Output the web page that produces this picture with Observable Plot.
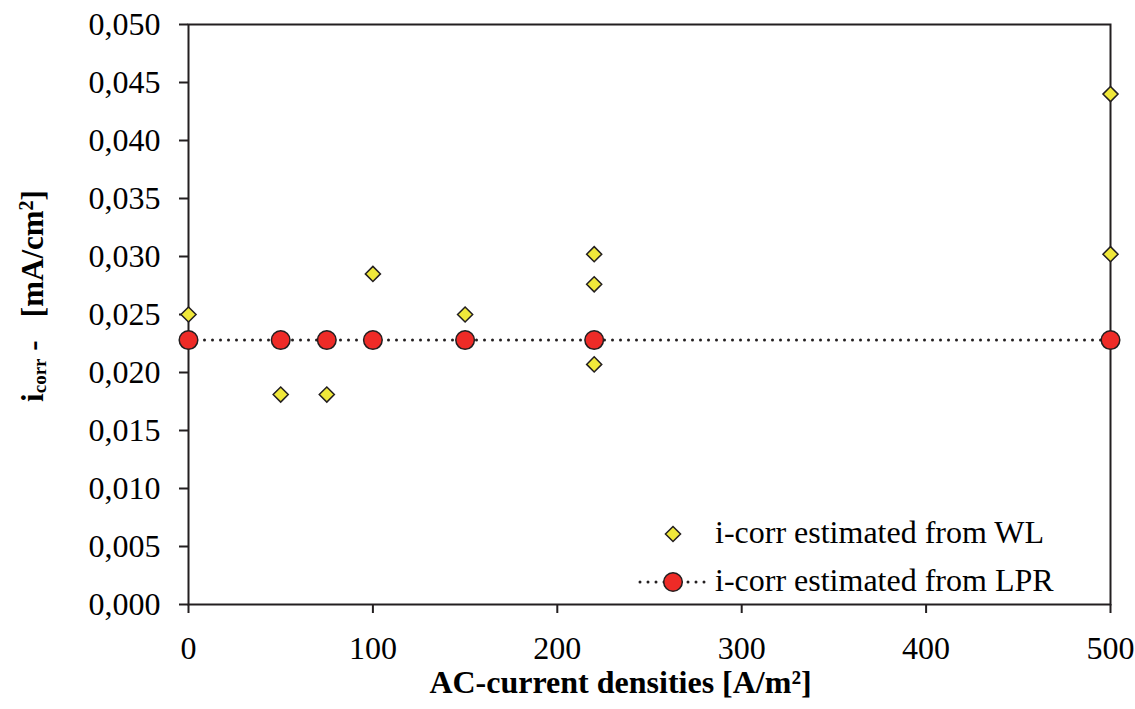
<!DOCTYPE html>
<html><head><meta charset="utf-8">
<script src="https://cdn.jsdelivr.net/npm/d3@7"></script>
<script src="https://cdn.jsdelivr.net/npm/@observablehq/plot@0.6"></script>
<style>
body{margin:0;background:#fff;}
svg{font-family:"Liberation Serif","Times New Roman",serif;}
</style></head><body><div id="chart"></div>
<script>
// ---- data ----
const lprX = [0, 50, 75, 100, 150, 220, 500];
const lprValues = [0.0228, 0.0228, 0.0228, 0.0228, 0.0228, 0.0228, 0.0228];
const wlX = [0, 50, 75, 100, 150, 220, 220, 220, 500, 500];
const wlValues = [0.0250, 0.0181, 0.0181, 0.0285, 0.0250, 0.0302, 0.0276, 0.0207, 0.0440, 0.0302];
const xTicks = [0, 100, 200, 300, 400, 500];
const yTicks = [0, 0.005, 0.010, 0.015, 0.020, 0.025, 0.030, 0.035, 0.040, 0.045, 0.050];
const seriesNames = ["i-corr estimated from WL", "i-corr estimated from LPR"];
const xTitle = "AC-current densities [A/m\u00b2]";

const lpr = lprX.map((x, i) => ({x, y: lprValues[i]}));
const wl = wlX.map((x, i) => ({x, y: wlValues[i]}));

const ink = "#231f20";
const yellow = "#f0e83a";
const red = "#ee2b27";
const fmt = d => d3.format(".3f")(d).replace(".", ",");

const plot = Plot.plot({
  width: 1135, height: 709,
  marginLeft: 188, marginRight: 25, marginTop: 24, marginBottom: 105,
  style: {fontFamily: "Liberation Serif, Times New Roman, serif", fontSize: "32px", color: ink, background: "#fff"},
  x: {domain: [0, 500]},
  y: {domain: [0, 0.05]},
  marks: [
    Plot.frame({stroke: ink, strokeWidth: 2}),
    Plot.axisX({ticks: xTicks, tickSize: 9, tickPadding: 23, label: null, fontSize: 32, strokeWidth: 2, stroke: ink, fill: "#000"}),
    Plot.axisY({ticks: yTicks, tickSize: 9, tickPadding: 19, label: null, fontSize: 32, strokeWidth: 2, stroke: ink, fill: "#000", tickFormat: fmt}),
    Plot.line(lpr, {x: "x", y: "y", stroke: ink, strokeWidth: 3, strokeDasharray: "0,8", strokeLinecap: "round"}),
    Plot.dot(wl, {x: "x", y: "y", symbol: "diamond2", r: 6.8, fill: yellow, stroke: ink, strokeWidth: 1.5}),
    Plot.dot(lpr, {x: "x", y: "y", r: 9.3, fill: red, stroke: ink, strokeWidth: 1.5}),
    Plot.text([xTitle], {frameAnchor: "bottom", dy: 88, dx: -29, fontWeight: "bold", fontSize: 32, fill: "#000"})
  ]
});
document.getElementById("chart").appendChild(plot);

const svg = d3.select(plot);
// y axis title with subscript
const yt = svg.append("text")
  .attr("transform", "translate(43,296) rotate(-90)")
  .attr("text-anchor", "middle")
  .attr("font-weight", "bold")
  .attr("font-size", 31)
  .attr("fill", "#000");
yt.append("tspan").text("i");
yt.append("tspan").attr("font-size", 19).attr("dy", "0.15em").text("corr");
yt.append("tspan").attr("dy", "-0.1em").text("\u00a0-\u00a0\u00a0\u00a0[mA/cm");
yt.append("tspan").attr("font-size", 20).attr("dy", "-0.5em").text("2");
yt.append("tspan").attr("dy", "0.32em").text("]");

// legend
const lg = svg.append("g").attr("font-size", 32).attr("fill", "#000").attr("text-anchor", "start");
const sx = 673, tx = 715, rows = [534, 582];
lg.append("path")
  .attr("d", d3.symbol(d3.symbolDiamond2, Math.PI * 6.8 * 6.8)())
  .attr("transform", `translate(${sx},${rows[0]})`)
  .attr("fill", yellow).attr("stroke", ink).attr("stroke-width", 1.5);
lg.append("line")
  .attr("x1", 640).attr("x2", 706).attr("y1", rows[1]).attr("y2", rows[1])
  .attr("stroke", ink).attr("stroke-width", 3).attr("stroke-dasharray", "0,8").attr("stroke-linecap", "round");
lg.append("circle").attr("cx", sx).attr("cy", rows[1]).attr("r", 9.3)
  .attr("fill", red).attr("stroke", ink).attr("stroke-width", 1.5);
seriesNames.forEach((name, i) => {
  lg.append("text").attr("x", tx).attr("y", rows[i] + 9).attr("text-anchor", "start").text(name);
});
</script></body></html>
